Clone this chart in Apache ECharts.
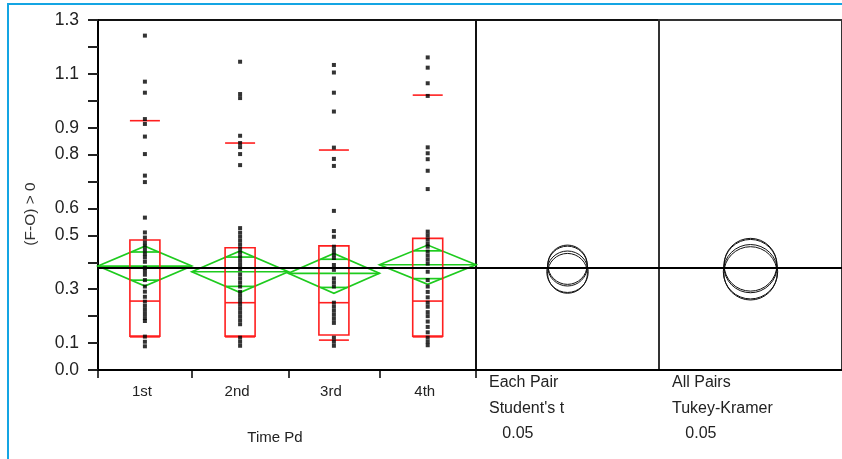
<!DOCTYPE html>
<html>
<head>
<meta charset="utf-8">
<script src="https://cdn.jsdelivr.net/npm/echarts@6/dist/echarts.min.js"></script>
<style>
  html, body { margin: 0; padding: 0; background: #fff; }
  #wrap { position: relative; width: 842px; height: 459px; overflow: hidden; }
  #chart { width: 842px; height: 459px; }
  #frame { position: absolute; left: 7px; top: 3px; right: -10px; bottom: -10px;
           border-left: 2px solid #14a5e3; border-top: 2px solid #14a5e3; pointer-events: none; }
</style>
</head>
<body>
<div id="wrap"><div id="chart"></div><div id="frame"></div></div>
<script>
// Groups of the one-way layout; each group's width on the x axis is its sample size
const categories = ['1st', '2nd', '3rd', '4th'];
const groupSizes = [34, 35, 33, 35];

// Observations (F-O) per time period
const obs1st = [1.242, 1.071, 1.030, 0.932, 0.914, 0.867, 0.802, 0.722, 0.698, 0.566,
  0.511, 0.492, 0.474, 0.461, 0.446, 0.431, 0.418, 0.402, 0.380, 0.368, 0.354, 0.334, 0.310,
  0.291, 0.272, 0.254, 0.238, 0.223, 0.208, 0.193, 0.182, 0.124, 0.105, 0.088];
const obs2nd = [1.145, 1.025, 1.010, 0.870, 0.843, 0.828, 0.802, 0.761, 0.527,
  0.510, 0.495, 0.480, 0.465, 0.450, 0.435, 0.420, 0.405, 0.390, 0.375, 0.355, 0.340, 0.325,
  0.310, 0.290, 0.275, 0.260, 0.245, 0.230, 0.215, 0.200, 0.185, 0.170, 0.120, 0.105, 0.090];
const obs3rd = [1.133, 1.105, 1.030, 0.960, 0.826, 0.784, 0.758, 0.591,
  0.516, 0.495, 0.458, 0.444, 0.430, 0.416, 0.390, 0.372, 0.340, 0.325, 0.310,
  0.250, 0.235, 0.220, 0.205, 0.190, 0.175, 0.120, 0.105, 0.090];
const obs4th = [1.161, 1.123, 1.065, 1.018, 0.827, 0.805, 0.783, 0.740, 0.672,
  0.514, 0.500, 0.485, 0.470, 0.458, 0.440, 0.425, 0.410, 0.395, 0.365, 0.334, 0.310,
  0.290, 0.270, 0.250, 0.235, 0.215, 0.200, 0.180, 0.160, 0.140, 0.120, 0.105, 0.092];
const observations = [obs1st, obs2nd, obs3rd, obs4th];

// Quantiles (10%, 25%, 50%, 75%, 90%)
const q10 = [0.123, 0.123, 0.111, 0.123];
const q25 = [0.126, 0.126, 0.130, 0.126];
const q50 = [0.256, 0.250, 0.250, 0.256];
const q75 = [0.483, 0.454, 0.461, 0.489];
const q90 = [0.926, 0.843, 0.817, 1.021];

// Means with 95% confidence half-widths (mean diamonds)
const groupMeans = [0.386, 0.365, 0.359, 0.391];
const ciHalf = [0.074, 0.077, 0.074, 0.073];
const grandMean = 0.381;

// Comparison circle radii
const studentRadius = [0.074, 0.077, 0.074, 0.073];
const tukeyRadius = [0.099, 0.101, 0.099, 0.098];

// Y tick labels that are printed
const yTickLabels = ['0.0', '0.1', '0.3', '0.5', '0.6', '0.8', '0.9', '1.1', '1.3'];
const xTitle = 'Time Pd';
const yTitle = '(F-O) > 0';
const methodLabels = [['Each Pair', "Student's t", '0.05'], ['All Pairs', 'Tukey-Kramer', '0.05']];

// ---- derived layout values along the x axis ----
const edges = [0];
groupSizes.forEach(n => edges.push(edges[edges.length - 1] + n));
const total = edges[edges.length - 1];
const centers = groupSizes.map((n, i) => edges[i] + n / 2);

const FONT = "'Liberation Sans', Arial, sans-serif";
const RED = '#ff1f1f';
const GREEN = '#1ecb1e';

const pointData = [];
observations.forEach((arr, i) => arr.forEach(v => pointData.push([centers[i], v])));

const boxData = categories.map((c, i) => [centers[i], q10[i], q25[i], q50[i], q75[i], q90[i]]);
const diamondData = categories.map((c, i) => [edges[i], edges[i + 1], groupMeans[i], ciHalf[i]]);
const studentData = categories.map((c, i) => [0.5, groupMeans[i], studentRadius[i]]);
const tukeyData = categories.map((c, i) => [0.5, groupMeans[i], tukeyRadius[i]]);

const grandLine = {
  silent: true, symbol: ['none', 'none'], label: { show: false },
  lineStyle: { color: '#000', width: 2, type: 'solid' },
  emphasis: { disabled: true },
  data: [{ yAxis: grandMean }]
};

function renderBox(params, api) {
  const cx = api.coord([api.value(0), 0])[0];
  const y = k => api.coord([api.value(0), api.value(k)])[1];
  const half = 15;
  const st = { stroke: RED, lineWidth: 1.6, fill: null };
  const hline = yy => ({ type: 'line', shape: { x1: cx - half, y1: yy, x2: cx + half, y2: yy }, style: st });
  return {
    type: 'group',
    children: [
      { type: 'rect', shape: { x: cx - half, y: y(4), width: half * 2, height: y(2) - y(4) }, style: st },
      hline(y(3)), hline(y(1)), hline(y(5))
    ]
  };
}

function renderDiamond(params, api) {
  const xl = api.value(0), xr = api.value(1), m = api.value(2), h = api.value(3);
  const xm = (xl + xr) / 2;
  const L = api.coord([xl, m]), R = api.coord([xr, m]);
  const T = api.coord([xm, m + h]), B = api.coord([xm, m - h]);
  const st = { stroke: GREEN, lineWidth: 1.7, fill: null };
  const k = 1 / Math.SQRT2;
  const mark = sgn => {
    const yy = api.coord([xm, m + sgn * h * k])[1];
    const dx = (R[0] - L[0]) / 2 * (1 - k);
    return { type: 'line', shape: { x1: T[0] - dx, y1: yy, x2: T[0] + dx, y2: yy }, style: st };
  };
  return {
    type: 'group',
    children: [
      { type: 'polygon', shape: { points: [L, T, R, B] }, style: st },
      { type: 'line', shape: { x1: L[0], y1: L[1], x2: R[0], y2: R[1] }, style: st },
      mark(1), mark(-1)
    ]
  };
}

function renderCircle(params, api) {
  const c = api.coord([api.value(0), api.value(1)]);
  const r = api.size([0, api.value(2)])[1];
  return { type: 'circle', shape: { cx: c[0], cy: c[1], r: r }, style: { stroke: '#111', lineWidth: 1, fill: null } };
}

const yBase = { type: 'value', min: 0, max: 1.3, interval: 0.1 };
const hiddenY = gi => Object.assign({}, yBase, {
  gridIndex: gi, axisLine: { show: false }, axisTick: { show: false },
  axisLabel: { show: false }, splitLine: { show: false }
});
const sideX = gi => ({
  type: 'value', gridIndex: gi, min: 0, max: 1,
  axisLine: { show: true, lineStyle: { color: '#000', width: 2 } },
  axisTick: { show: false }, axisLabel: { show: false }, splitLine: { show: false }
});

const option = {
  animation: false,
  backgroundColor: '#fff',
  textStyle: { fontFamily: FONT },
  grid: [
    { left: 98, top: 20, width: 378, height: 350, show: true, borderColor: '#111', borderWidth: 2 },
    { left: 476, top: 20, width: 183, height: 350, show: true, borderColor: '#111', borderWidth: 2 },
    { left: 659, top: 20, width: 183, height: 350, show: true, borderColor: '#333', borderWidth: 2 }
  ],
  xAxis: [
    {
      type: 'value', gridIndex: 0, min: 0, max: total,
      name: xTitle, nameLocation: 'middle', nameGap: 60,
      nameTextStyle: { fontSize: 15, color: '#222', fontFamily: FONT, padding: [0, 24, 0, 0] },
      axisLine: { show: true, lineStyle: { color: '#000', width: 2 } },
      axisTick: { show: true, customValues: edges, length: 8, lineStyle: { color: '#000', width: 1.5 } },
      axisLabel: {
        customValues: centers, margin: 14, fontSize: 15, color: '#222', fontFamily: FONT,
        padding: [0, 6, 0, 0],
        formatter: v => {
          const i = centers.findIndex(c => Math.abs(c - v) < 1e-6);
          return i >= 0 ? categories[i] : '';
        }
      },
      splitLine: { show: false }
    },
    sideX(1), sideX(2)
  ],
  yAxis: [
    Object.assign({}, yBase, {
      gridIndex: 0,
      name: yTitle, nameLocation: 'middle', nameGap: 59, nameRotate: 90,
      nameTextStyle: { fontSize: 15.5, color: '#333', fontFamily: FONT, padding: [0, 38, 0, 0] },
      axisLine: { show: true, lineStyle: { color: '#000', width: 2 } },
      axisTick: { show: true, length: 10, lineStyle: { color: '#222', width: 2 } },
      axisLabel: {
        margin: 19, fontSize: 17.5, color: '#222', fontFamily: FONT,
        formatter: v => {
          const s = (Math.round(v * 10) / 10).toFixed(1);
          return yTickLabels.indexOf(s) >= 0 ? s : '';
        }
      },
      splitLine: { show: false }
    }),
    hiddenY(1), hiddenY(2)
  ],
  series: [
    { type: 'custom', xAxisIndex: 0, yAxisIndex: 0, z: 2, renderItem: renderDiamond, data: diamondData, silent: true },
    { type: 'custom', xAxisIndex: 0, yAxisIndex: 0, z: 3, renderItem: renderBox, data: boxData, silent: true },
    {
      type: 'scatter', xAxisIndex: 0, yAxisIndex: 0, z: 5, symbol: 'rect', symbolSize: [4, 4],
      itemStyle: { color: '#000' }, data: pointData, silent: true, markLine: grandLine
    },
    { type: 'custom', xAxisIndex: 1, yAxisIndex: 1, z: 3, renderItem: renderCircle, data: studentData, silent: true, markLine: grandLine },
    { type: 'custom', xAxisIndex: 2, yAxisIndex: 2, z: 3, renderItem: renderCircle, data: tukeyData, silent: true, markLine: grandLine }
  ],
  graphic: methodLabels.map((lines, i) => ({
    type: 'text', left: [489, 672][i], top: 370, silent: true,
    style: {
      text: lines[0] + '\n' + lines[1] + '\n   ' + lines[2],
      font: '16px ' + FONT, lineHeight: 25.5, fill: '#222'
    }
  }))
};

const chart = echarts.init(document.getElementById('chart'), null, { renderer: 'canvas' });
chart.setOption(option);
</script>
</body>
</html>
